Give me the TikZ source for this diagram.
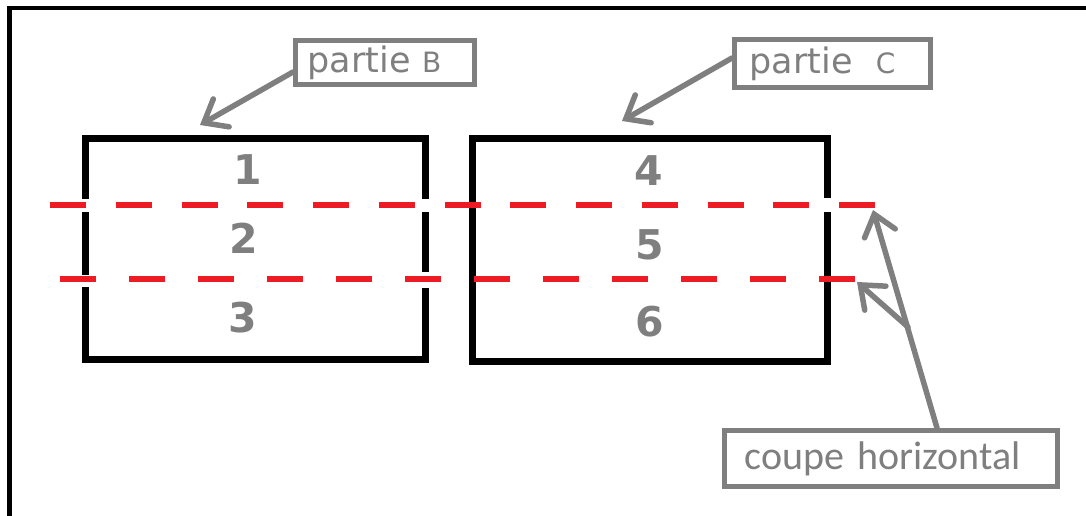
\documentclass[tikz,border=0pt]{standalone}
\usepackage{fontspec}
\setmainfont{DejaVu Sans}
\newfontfamily\calib{Carlito}
\usetikzlibrary{arrows.meta}
\definecolor{pgray}{HTML}{7F7F7F}
\definecolor{pred}{HTML}{ED1C24}
\tikzset{
  partbox/.style={draw=black, line width=7pt},
  cutline/.style={draw=pred, line width=6.5pt},
  lblbox/.style={draw=pgray, line width=5.5pt, text=pgray, inner ysep=0pt, align=left},
  num/.style={text=pgray, font=\fontsize{41}{41}\selectfont\bfseries, inner sep=0pt},
  ptr/.style={draw=pgray, line width=5.5pt, line cap=round, line join=round,
    -{Straight Barb[length=20pt, width=32pt, line cap=round]}},
}
\begin{document}
\begin{tikzpicture}[x=1pt, y=-1pt]
\useasboundingbox (0,0) rectangle (1086,516);
% outer frame
\draw[line width=4.5pt] (9.5,516) -- (9.5,8) -- (1086,8);
% parts
\draw[partbox] (85,138) rectangle (425,359);
\draw[partbox] (472,138) rectangle (827,361);
\node[coordinate] (bTop) at (200,125) {};
\node[coordinate] (cTop) at (622,121) {};
% gaps in the sides
\fill[white] (80,199) rectangle (90,212);
\fill[white] (80,275) rectangle (90,287);
\fill[white] (420,199) rectangle (430,212);
\fill[white] (420,272) rectangle (430,288);
\fill[white] (822,198) rectangle (832,212);
% cut lines
\coordinate (l1a) at (50,205);
\coordinate (l1b) at (875,205);
\coordinate (l2a) at (60,279);
\coordinate (l2b) at (855,279);
\draw[cutline, dash pattern=on 36pt off 29.75pt] (l1a) -- (l1b);
\draw[cutline, dash pattern=on 36pt off 33pt] (l2a) -- (l2b);
% numbers
\node[num] (n1) at (248,170) {1};
\node[num] (n2) at (244,238) {2};
\node[num] (n3) at (243,318) {3};
\node[num] (n4) at (649,171) {4};
\node[num] (n5) at (650,245) {5};
\node[num] (n6) at (650,322) {6};
% labels
\node[lblbox, minimum width=179pt, minimum height=44pt, text width=155pt, inner xsep=12pt,
  font=\fontsize{35}{35}\selectfont] (lblB) at (385,62.5) {partie {\fontsize{28}{28}\selectfont B}};
\node[lblbox, minimum width=196pt, minimum height=48pt, text width=166pt, inner xsep=15pt,
  font=\fontsize{35}{35}\selectfont] (lblC) at (832.5,63.5) {partie\ \ {\fontsize{28}{28}\selectfont C}};
\node[lblbox, minimum width=333pt, minimum height=56pt, text width=293pt, inner xsep=20pt,
  font=\calib\fontsize{40}{40}\selectfont] (lblH) at (891,458.5) {coupe horizontal};
% arrows
\coordinate (bStart) at (293,72);
\coordinate (cStart) at (732,58);
\coordinate (hStart) at (937,428);
\coordinate (hFork) at (908,327);
\coordinate (h1) at (873,210);
\coordinate (h2) at (857,282);
\draw[ptr] (bStart) -- (bTop);
\draw[ptr] (cStart) -- (cTop);
\draw[ptr] (hStart) -- (h1);
\draw[ptr] (hFork) -- (h2);
\end{tikzpicture}
\end{document}
